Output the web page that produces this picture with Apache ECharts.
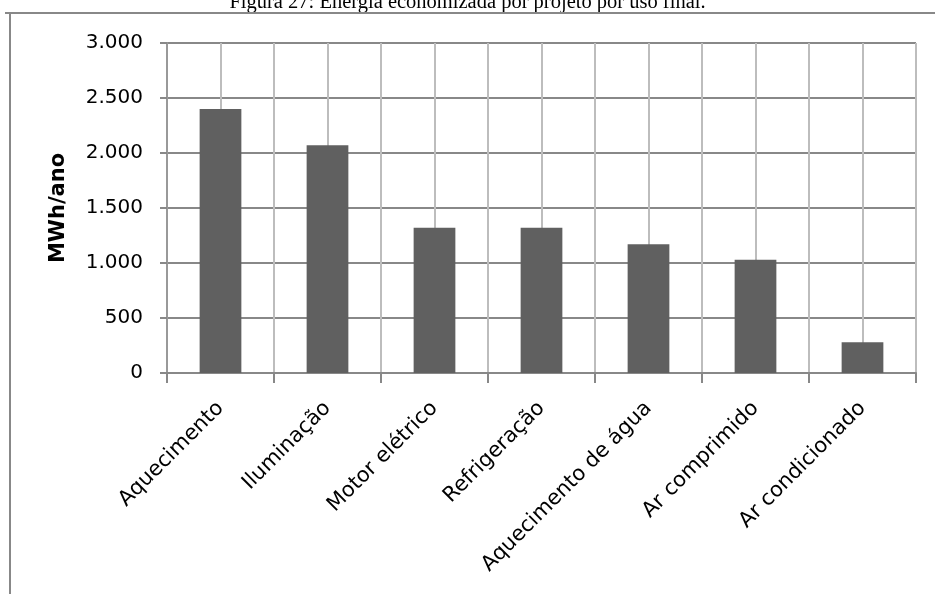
<!DOCTYPE html>
<html>
<head>
<meta charset="utf-8">
<script src="https://cdn.jsdelivr.net/npm/echarts@6/dist/echarts.min.js"></script>
<style>
  html, body { margin: 0; padding: 0; background: #fff; }
  #chart { width: 935px; height: 594px; }
</style>
</head>
<body>
<div id="chart"></div>
<script>
// usos finais e energia economizada (MWh/ano)
const categories = ['Aquecimento', 'Iluminação', 'Motor elétrico', 'Refrigeração',
  'Aquecimento de água', 'Ar comprimido', 'Ar condicionado']
const values = [2400, 2070, 1320, 1320, 1170, 1030, 280]
const yTicks = [0, 500, 1000, 1500, 2000, 2500, 3000]

const chart = echarts.init(document.getElementById('chart'))
const font = '"DejaVu Sans", sans-serif'
// separador de milhar com ponto
const fmt = v => v < 1000 ? String(v) : Math.floor(v / 1000) + '.' + String(v % 1000).padStart(3, '0')

chart.setOption({
  animation: false,
  graphic: [
    {
      type: 'text', left: 'center', top: -8,
      style: { text: 'Figura 27: Energia economizada por projeto por uso final.',
        font: '20.5px "Liberation Serif", serif', fill: '#000' }
    },
    { type: 'line', shape: { x1: 5, y1: 13, x2: 935, y2: 13 }, style: { stroke: '#888', lineWidth: 2 } },
    { type: 'line', shape: { x1: 10, y1: 13, x2: 10, y2: 594 }, style: { stroke: '#888', lineWidth: 2 } }
  ],
  grid: { left: 167, right: 19, top: 43, bottom: 221 },
  xAxis: [
    {
      type: 'category',
      data: categories,
      axisLine: { lineStyle: { color: '#888', width: 2 } },
      axisTick: { show: true, length: 10, lineStyle: { color: '#888', width: 2 } },
      axisLabel: { rotate: 45, margin: 32, color: '#000', fontSize: 21, fontFamily: font },
      splitLine: { show: false }
    },
    {
      type: 'value', min: 0, max: 14, interval: 1, position: 'bottom',
      axisLine: { show: false }, axisTick: { show: false }, axisLabel: { show: false },
      splitLine: { show: true, lineStyle: { color: '#bdbdbd', width: 2 } }
    }
  ],
  yAxis: {
    type: 'value',
    min: yTicks[0],
    max: yTicks[yTicks.length - 1],
    interval: 500,
    name: 'MWh/ano',
    nameLocation: 'middle',
    nameGap: 98,
    nameTextStyle: { color: '#000', fontSize: 21, fontWeight: 'bold', fontFamily: font },
    axisLine: { show: true, lineStyle: { color: '#999', width: 2 } },
    axisTick: { show: true, length: 7, lineStyle: { color: '#888', width: 2 } },
    axisLabel: { color: '#000', fontSize: 20, fontFamily: font, margin: 24, formatter: fmt },
    splitLine: { lineStyle: { color: '#888', width: 2 } }
  },
  series: [{
    type: 'bar',
    xAxisIndex: 0,
    data: values,
    barWidth: '39%',
    itemStyle: { color: '#606060' }
  }]
})
</script>
</body>
</html>
